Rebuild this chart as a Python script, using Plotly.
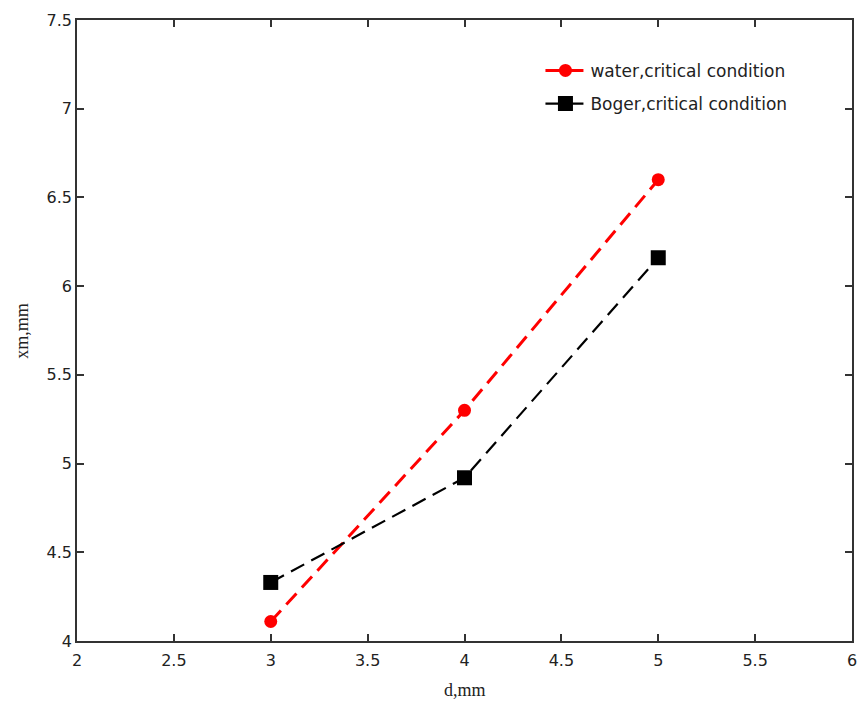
import plotly.graph_objects as go

d_vals = [3, 4, 5]
water_xm = [4.11, 5.30, 6.60]
boger_xm = [4.33, 4.92, 6.16]
x_ticks = [2, 2.5, 3, 3.5, 4, 4.5, 5, 5.5, 6]
x_tick_labels = ["2", "2.5", "3", "3.5", "4", "4.5", "5", "5.5", "6"]
y_ticks = [4, 4.5, 5, 5.5, 6, 6.5, 7, 7.5]
y_tick_labels = ["4", "4.5", "5", "5.5", "6", "6.5", "7", "7.5"]

fig = go.Figure()
fig.add_trace(go.Scatter(
    x=d_vals, y=water_xm, mode="lines+markers",
    name="water,critical condition", legendgroup="w",
    line=dict(color="#ff0000", width=3, dash="15px,8px"),
    marker=dict(symbol="circle", size=13, color="#ff0000"),
))
fig.add_trace(go.Scatter(
    x=d_vals, y=boger_xm, mode="lines+markers",
    name="Boger,critical condition", legendgroup="b",
    line=dict(color="#000000", width=2.2, dash="15px,8px"),
    marker=dict(symbol="square", size=15, color="#000000"),
))

axis_common = dict(
    showline=True, linecolor="#333333", linewidth=1.5, mirror="ticks",
    ticks="inside", ticklen=7, tickcolor="#333333", tickwidth=1.5,
    showgrid=False, zeroline=False,
    tickfont=dict(family="DejaVu Sans", size=16, color="#222222"),
)

title_font = dict(family="Liberation Serif", size=18, color="#222222")

fig.update_layout(
    width=864, height=704,
    margin=dict(l=77, r=7, t=20, b=63),
    paper_bgcolor="white", plot_bgcolor="white",
    xaxis=dict(range=[2, 6], tickvals=x_ticks, ticktext=x_tick_labels,
               ticklabelstandoff=4, **axis_common),
    yaxis=dict(range=[4, 7.5], tickvals=y_ticks, ticktext=y_tick_labels, **axis_common),
    legend=dict(x=0.598, y=0.947, xanchor="left", yanchor="top",
                bgcolor="rgba(255,255,255,0)", borderwidth=0,
                font=dict(family="DejaVu Sans", size=17, color="#222222"),
                itemwidth=40, tracegroupgap=8),
    showlegend=True,
    annotations=[
        dict(text="d,mm", xref="paper", yref="paper", x=0.5, y=-0.079,
             xanchor="center", yanchor="middle", showarrow=False, font=title_font),
        dict(text="xm,mm", xref="paper", yref="paper", x=-0.072, y=0.5,
             xanchor="center", yanchor="middle", showarrow=False, textangle=-90,
             font=title_font),
    ],
)

fig.write_html("out.html")
